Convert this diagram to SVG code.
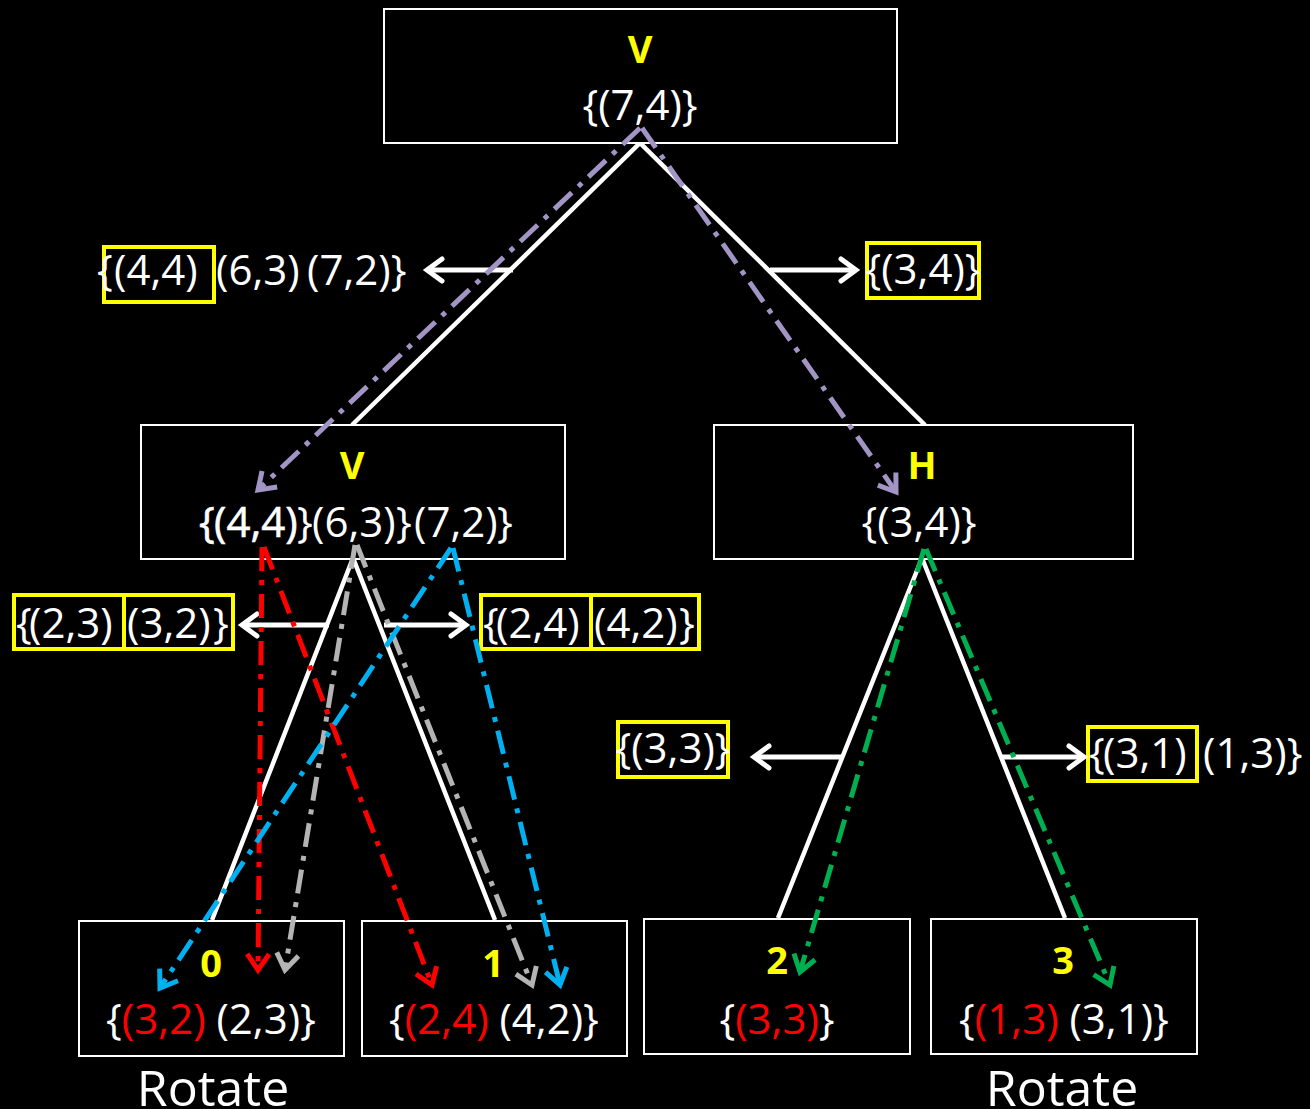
<svg xmlns="http://www.w3.org/2000/svg" width="1310" height="1109" viewBox="0 0 1310 1109">
  <defs>
    <style>
      .box { fill: #000; stroke: #fff; stroke-width: 2; }
      .hl { fill: none; stroke: #ffff00; stroke-width: 4; }
      .set { font-family: "Open Sans", "Liberation Sans", sans-serif; font-size: 42px; fill: #fff; }
      .tag { font-family: "Open Sans", "Liberation Sans", sans-serif; font-size: 38px; font-weight: bold; fill: #ffff00; text-anchor: middle; }
      .rot { font-family: "Open Sans", "Liberation Sans", sans-serif; font-size: 50px; fill: #fff; text-anchor: middle; }
      .red { fill: #ff0000; }
      .tree { fill: none; stroke: #fff; stroke-width: 4.5; }
      .split { fill: none; stroke: #fff; stroke-width: 5; marker-end: url(#wArrow); }
      .trace { fill: none; stroke-width: 5; stroke-dasharray: 24 9 5 9; }
    </style>
    <marker id="wArrow" markerUnits="userSpaceOnUse" orient="auto" overflow="visible">
      <path d="M -15 -11 L 0 0 L -15 11" fill="none" stroke="#fff" stroke-width="5" stroke-linecap="round"/>
    </marker>
    <marker id="aPurple" markerUnits="userSpaceOnUse" orient="auto" overflow="visible">
      <path d="M -16 -11 L 0 0 L -16 11" fill="none" stroke="#a294c4" stroke-width="5"/>
    </marker>
    <marker id="aRed" markerUnits="userSpaceOnUse" orient="auto" overflow="visible">
      <path d="M -16 -11 L 0 0 L -16 11" fill="none" stroke="#ff0000" stroke-width="5"/>
    </marker>
    <marker id="aGray" markerUnits="userSpaceOnUse" orient="auto" overflow="visible">
      <path d="M -16 -11 L 0 0 L -16 11" fill="none" stroke="#b4b4b4" stroke-width="5"/>
    </marker>
    <marker id="aBlue" markerUnits="userSpaceOnUse" orient="auto" overflow="visible">
      <path d="M -16 -11 L 0 0 L -16 11" fill="none" stroke="#00b0f0" stroke-width="5"/>
    </marker>
    <marker id="aGreen" markerUnits="userSpaceOnUse" orient="auto" overflow="visible">
      <path d="M -16 -11 L 0 0 L -16 11" fill="none" stroke="#00b050" stroke-width="5"/>
    </marker>
  </defs>

  <rect x="0" y="0" width="1310" height="1109" fill="#000"/>

  <!-- tree edges -->
  <g id="tree-edges">
    <polyline class="tree" points="352,425 640,143 925,425"/>
    <polyline class="tree" points="212,920 353,558 495,920"/>
    <polyline class="tree" points="778,918 922,558 1065,918"/>
  </g>

  <!-- nodes -->
  <g id="node-root">
    <rect class="box" x="384" y="9" width="513" height="134"/>
    <text class="tag" x="640" y="63">V</text>
    <text class="set" x="640" y="120" text-anchor="middle">{(7,4)}</text>
  </g>

  <g id="node-left">
    <rect class="box" x="141" y="425" width="424" height="134"/>
    <text class="tag" x="352" y="479">V</text>
    <text class="set" y="537"><tspan x="199" stroke="#fff" stroke-width="0.6">{</tspan><tspan x="214" stroke="#fff" stroke-width="0.6">(4,4)</tspan><tspan x="297">}</tspan><tspan x="312">(6,3)</tspan><tspan x="396">}</tspan><tspan x="414">(7,2)</tspan><tspan x="497">}</tspan></text>
  </g>

  <g id="node-right">
    <rect class="box" x="714" y="425" width="419" height="134"/>
    <text class="tag" x="922" y="479">H</text>
    <text class="set" x="919" y="537" text-anchor="middle">{(3,4)}</text>
  </g>

  <g id="leaf-0">
    <rect class="box" x="79" y="921" width="265" height="135"/>
    <text class="tag" x="211" y="977">0</text>
    <text class="set" x="211" y="1034" text-anchor="middle">{<tspan class="red">(3,2)</tspan> (2,3)}</text>
  </g>

  <g id="leaf-1">
    <rect class="box" x="362" y="921" width="265" height="135"/>
    <text class="tag" x="493" y="977">1</text>
    <text class="set" x="494" y="1034" text-anchor="middle">{<tspan class="red">(2,4)</tspan> (4,2)}</text>
  </g>

  <g id="leaf-2">
    <rect class="box" x="644" y="919" width="266" height="135"/>
    <text class="tag" x="777" y="974">2</text>
    <text class="set" x="777" y="1034" text-anchor="middle">{<tspan class="red">(3,3)</tspan>}</text>
  </g>

  <g id="leaf-3">
    <rect class="box" x="931" y="919" width="266" height="135"/>
    <text class="tag" x="1063" y="974">3</text>
    <text class="set" x="1064" y="1034" text-anchor="middle">{<tspan class="red">(1,3)</tspan> (3,1)}</text>
  </g>

  <text class="rot" x="213" y="1106">Rotate</text>
  <text class="rot" x="1062" y="1106">Rotate</text>

  <!-- split results beside each cut -->
  <g id="split-labels">
    <rect class="hl" x="104" y="247" width="110" height="55"/>
    <text class="set" y="285"><tspan x="97">{</tspan><tspan x="114">(4,4)</tspan><tspan x="216">(6,3)</tspan><tspan x="307">(7,2)}</tspan></text>

    <rect class="hl" x="867" y="243" width="112" height="55"/>
    <text class="set" x="923" y="284" text-anchor="middle">{(3,4)}</text>

    <rect class="hl" x="14" y="595" width="110" height="54"/>
    <rect class="hl" x="124" y="595" width="109" height="54"/>
    <text class="set" y="638"><tspan x="16">{</tspan><tspan x="29">(2,3)</tspan><tspan x="127">(3,2)</tspan><tspan x="213">}</tspan></text>

    <rect class="hl" x="481" y="595" width="110" height="54"/>
    <rect class="hl" x="591" y="595" width="108" height="54"/>
    <text class="set" y="638"><tspan x="483">{</tspan><tspan x="496">(2,4)</tspan><tspan x="594">(4,2)</tspan><tspan x="679">}</tspan></text>

    <rect class="hl" x="618" y="722" width="110" height="55"/>
    <text class="set" x="673" y="763" text-anchor="middle">{(3,3)}</text>

    <rect class="hl" x="1088" y="727" width="109" height="54"/>
    <text class="set" y="768"><tspan x="1089">{</tspan><tspan x="1103">(3,1)</tspan><tspan x="1203">(1,3)}</tspan></text>
  </g>

  <!-- connectors: split arrows and traced point paths -->
  <g id="connectors">
    <line class="split" x1="513" y1="270" x2="427" y2="270"/>
    <line class="split" x1="770" y1="270" x2="856" y2="270"/>
    <line class="split" x1="329" y1="625" x2="242" y2="625"/>
    <line class="split" x1="384" y1="625" x2="466" y2="625"/>
    <line class="split" x1="841" y1="757" x2="754" y2="757"/>
    <line class="split" x1="1001" y1="757" x2="1084" y2="757"/>

    <line class="trace" stroke="#a294c4" marker-end="url(#aPurple)" x1="640" y1="128" x2="258" y2="490"/>
    <line class="trace" stroke="#a294c4" marker-end="url(#aPurple)" x1="642" y1="128" x2="896" y2="492"/>

    <line class="trace" stroke="#ff0000" marker-end="url(#aRed)" x1="262" y1="547" x2="258" y2="970"/>
    <line class="trace" stroke="#ff0000" marker-end="url(#aRed)" x1="264" y1="547" x2="432" y2="985"/>

    <line class="trace" stroke="#b4b4b4" marker-end="url(#aGray)" x1="355" y1="545" x2="285" y2="970"/>
    <line class="trace" stroke="#b4b4b4" marker-end="url(#aGray)" x1="357" y1="545" x2="532" y2="985"/>

    <line class="trace" stroke="#00b0f0" marker-end="url(#aBlue)" x1="451" y1="548" x2="160" y2="988"/>
    <line class="trace" stroke="#00b0f0" marker-end="url(#aBlue)" x1="453" y1="548" x2="560" y2="985"/>

    <line class="trace" stroke="#00b050" marker-end="url(#aGreen)" x1="924" y1="549" x2="800" y2="972"/>
    <line class="trace" stroke="#00b050" marker-end="url(#aGreen)" x1="926" y1="549" x2="1110" y2="985"/>
  </g>
</svg>
